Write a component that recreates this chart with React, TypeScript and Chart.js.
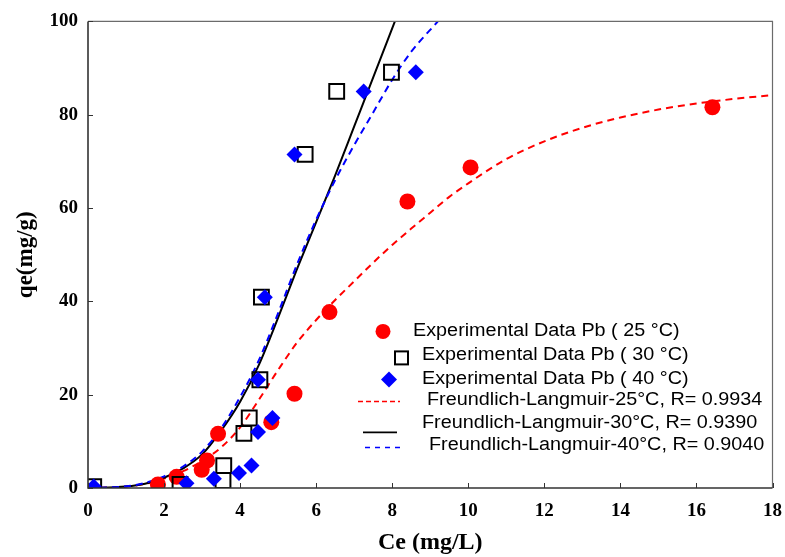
import React, { useEffect, useRef } from "react";
import { Chart, registerables } from "chart.js";

Chart.register(...registerables);

// ---------- data ----------
const ce25 = [1.84, 2.33, 2.99, 3.13, 3.42, 4.82, 5.43, 6.35, 8.4, 10.06, 16.42];
const qe25 = [0.75, 2.4, 3.9, 5.9, 11.6, 14.1, 20.2, 37.7, 61.4, 68.7, 81.6];

const ce30 = [0.15, 2.42, 3.55, 3.57, 4.1, 4.24, 4.52, 4.56, 5.71, 6.54, 7.98];
const qe30 = [0.3, 0.75, 1.6, 4.8, 11.7, 15.0, 23.2, 40.9, 71.5, 85.0, 89.1];

const ce40 = [0.15, 2.59, 3.31, 3.97, 4.3, 4.47, 4.85, 4.47, 4.65, 5.43, 7.25, 8.62];
const qe40 = [0.3, 1.0, 2.0, 3.2, 4.8, 12.0, 15.0, 23.2, 40.9, 71.5, 85.0, 89.1];

const fitX25 = [0, 1, 1.5, 2, 2.5, 3, 3.5, 4, 4.5, 5, 5.5, 6, 6.5, 7, 7.5, 8, 8.5, 9, 9.5, 10, 10.5, 11, 12, 13, 14, 15, 16, 17, 18];
const fitY25 = [0, 0.3, 0.9, 2.0, 3.6, 5.8, 8.7, 13.0, 19.0, 25.3, 31.2, 36.0, 40.3, 44.3, 48.3, 52.1, 55.6, 59.0, 62.4, 65.3, 68.0, 70.5, 74.3, 77.2, 79.4, 81.1, 82.4, 83.4, 84.2];

const fitX30 = [0, 1, 1.5, 2, 2.5, 3, 3.5, 4, 4.5, 5, 5.5, 6, 6.5, 7, 7.5, 8.07];
const fitY30 = [0, 0.3, 0.9, 2.2, 4.2, 7.2, 12.3, 18.5, 26.5, 36.5, 47.0, 57.0, 67.0, 77.5, 88.0, 100];

const fitX40 = [0, 1, 1.5, 2, 2.5, 3, 3.5, 4, 4.5, 5, 5.5, 6, 6.5, 7, 7.5, 8, 8.5, 9.2];
const fitY40 = [0, 0.35, 1.1, 2.5, 4.6, 7.8, 12.8, 19.5, 27.5, 37.5, 48.0, 57.5, 66.0, 73.5, 80.5, 87.5, 93.5, 100];

const seriesLabels = [
  "Experimental Data Pb ( 25 °C)",
  "Experimental Data Pb ( 30 °C)",
  "Experimental Data Pb ( 40 °C)",
  "Freundlich-Langmuir-25°C, R= 0.9934",
  "Freundlich-Langmuir-30°C, R= 0.9390",
  "Freundlich-Langmuir-40°C, R= 0.9040",
];

const xTickValues = [0, 2, 4, 6, 8, 10, 12, 14, 16, 18];
const yTickValues = [0, 20, 40, 60, 80, 100];

const xTitle = "Ce (mg/L)";
const yTitle = "qe(mg/g)";

const toPts = (xs: number[], ys: number[]) => xs.map((x, i) => ({ x, y: ys[i] }));

const SERIF = "'Liberation Serif', 'Times New Roman', serif";
const SANS = "'Liberation Sans', Arial, sans-serif";

const frameAndTicks = {
  id: "frameAndTicks",
  afterDraw(chart: any) {
    const { ctx, chartArea: a, scales } = chart;
    ctx.save();
    ctx.strokeStyle = "#6b6b6b";
    ctx.lineWidth = 1.2;
    ctx.beginPath();
    ctx.moveTo(a.left, a.top);
    ctx.lineTo(a.right, a.top);
    ctx.lineTo(a.right, a.bottom);
    ctx.stroke();
    ctx.strokeStyle = "#333";
    ctx.lineWidth = 1.6;
    ctx.beginPath();
    ctx.moveTo(a.left, a.top);
    ctx.lineTo(a.left, a.bottom);
    ctx.lineTo(a.right, a.bottom);
    ctx.stroke();
    ctx.lineWidth = 1;
    ctx.strokeStyle = "#333";
    ctx.beginPath();
    xTickValues.forEach((v) => {
      const px = Math.round(scales.x.getPixelForValue(v)) + 0.5;
      ctx.moveTo(px, a.bottom);
      ctx.lineTo(px, a.bottom - 5);
    });
    yTickValues.forEach((v) => {
      const py = Math.round(scales.y.getPixelForValue(v)) + 0.5;
      ctx.moveTo(a.left, py);
      ctx.lineTo(a.left + 5, py);
    });
    ctx.stroke();
    ctx.restore();
  },
};

const customLegend = {
  id: "customLegend",
  afterDraw(chart: any) {
    const { ctx, chartArea: a } = chart;
    const ox = a.left;
    const oy = a.top;
    ctx.save();

    ctx.fillStyle = "#ff0000";
    ctx.beginPath();
    ctx.arc(ox + 295, oy + 310, 7.5, 0, Math.PI * 2);
    ctx.fill();
    ctx.strokeStyle = "#000";
    ctx.lineWidth = 2;
    ctx.strokeRect(ox + 307, oy + 330, 13, 13);
    ctx.fillStyle = "#0000ff";
    ctx.beginPath();
    ctx.moveTo(ox + 301, oy + 350);
    ctx.lineTo(ox + 309, oy + 358);
    ctx.lineTo(ox + 301, oy + 366);
    ctx.lineTo(ox + 293, oy + 358);
    ctx.closePath();
    ctx.fill();
    ctx.lineWidth = 1.5;
    ctx.strokeStyle = "#ff0000";
    ctx.setLineDash([5, 3]);
    ctx.beginPath();
    ctx.moveTo(ox + 270, oy + 380);
    ctx.lineTo(ox + 312, oy + 380);
    ctx.stroke();
    ctx.setLineDash([]);
    ctx.strokeStyle = "#000";
    ctx.lineWidth = 1.8;
    ctx.beginPath();
    ctx.moveTo(ox + 275, oy + 411);
    ctx.lineTo(ox + 309, oy + 411);
    ctx.stroke();
    ctx.strokeStyle = "#0000ff";
    ctx.lineWidth = 1.5;
    ctx.setLineDash([5, 5]);
    ctx.beginPath();
    ctx.moveTo(ox + 277, oy + 426);
    ctx.lineTo(ox + 312, oy + 426);
    ctx.stroke();
    ctx.setLineDash([]);

    ctx.font = `18px ${SANS}`;
    ctx.fillStyle = "#000";
    ctx.textBaseline = "middle";
    ctx.textAlign = "left";
    const textPos = [
      [325, 310],
      [334, 334],
      [334, 358],
      [339, 379],
      [334, 402],
      [341, 424],
    ];
    const sx = 1.1;
    seriesLabels.forEach((t, i) => {
      ctx.save();
      ctx.translate(ox + textPos[i][0], oy + textPos[i][1]);
      ctx.scale(sx, 1);
      ctx.fillText(t, 0, 0);
      ctx.restore();
    });
    ctx.restore();
  },
};

export default function App() {
  const ref = useRef<HTMLCanvasElement | null>(null);

  useEffect(() => {
    document.body.style.margin = "0";
    const canvas = ref.current;
    if (!canvas) return;
    const chart = new Chart(canvas, {
      type: "scatter",
      data: {
        datasets: [
          {
            label: seriesLabels[0],
            data: toPts(ce25, qe25),
            pointStyle: "circle",
            pointRadius: 8,
            backgroundColor: "#ff0000",
            borderColor: "#ff0000",
            borderWidth: 0,
            order: 2,
          },
          {
            label: seriesLabels[1],
            data: toPts(ce30, qe30),
            pointStyle: "rect",
            pointRadius: 10.5,
            backgroundColor: "rgba(0,0,0,0)",
            borderColor: "#000",
            borderWidth: 2,
            order: 1,
          },
          {
            label: seriesLabels[2],
            data: toPts(ce40, qe40),
            pointStyle: "rectRot",
            pointRadius: 8,
            backgroundColor: "#0000ff",
            borderColor: "#0000ff",
            borderWidth: 0,
            order: 0,
          },
          {
            type: "line",
            label: seriesLabels[3],
            data: toPts(fitX25, fitY25),
            borderColor: "#ff0000",
            borderWidth: 2,
            borderDash: [7, 5],
            pointRadius: 0,
            showLine: true,
            cubicInterpolationMode: "monotone",
            fill: false,
            order: 5,
          },
          {
            type: "line",
            label: seriesLabels[4],
            data: toPts(fitX30, fitY30),
            borderColor: "#000",
            borderWidth: 2,
            pointRadius: 0,
            showLine: true,
            cubicInterpolationMode: "monotone",
            fill: false,
            order: 4,
          },
          {
            type: "line",
            label: seriesLabels[5],
            data: toPts(fitX40, fitY40),
            borderColor: "#0000ff",
            borderWidth: 2,
            borderDash: [7, 5],
            pointRadius: 0,
            showLine: true,
            cubicInterpolationMode: "monotone",
            fill: false,
            order: 3,
          },
        ] as any,
      },
      options: {
        responsive: false,
        animation: false,
        layout: { padding: { top: 21, right: 0, left: 0, bottom: 0 } },
        plugins: {
          legend: { display: false },
          tooltip: { enabled: false },
        },
        scales: {
          x: {
            type: "linear",
            min: 0,
            max: 18,
            afterBuildTicks: (s: any) => {
              s.ticks = xTickValues.map((v) => ({ value: v }));
            },
            afterFit: (s: any) => {
              s.height = 69;
              s.paddingRight = 11;
              s.paddingLeft = 0;
            },
            grid: { display: false, drawTicks: false },
            border: { display: false },
            ticks: {
              color: "#000",
              padding: 12,
              font: { family: SERIF, size: 19, weight: "bold" },
            },
            title: {
              display: true,
              text: xTitle,
              color: "#000",
              padding: { top: 0, bottom: 0 },
              font: { family: SERIF, size: 24, weight: "bold" },
            },
          },
          y: {
            type: "linear",
            min: 0,
            max: 100,
            afterBuildTicks: (s: any) => {
              s.ticks = yTickValues.map((v) => ({ value: v }));
            },
            afterFit: (s: any) => {
              s.width = 88;
            },
            grid: { display: false, drawTicks: false },
            border: { display: false },
            ticks: {
              color: "#000",
              padding: 10,
              font: { family: SERIF, size: 19, weight: "bold" },
            },
            title: {
              display: true,
              text: yTitle,
              color: "#000",
              padding: { top: 12, bottom: 0 },
              font: { family: SERIF, size: 23, weight: "bold" },
            },
          },
        },
      },
      plugins: [frameAndTicks, customLegend],
    } as any);
    return () => chart.destroy();
  }, []);

  return (
    <div style={{ width: 785, height: 557, background: "#fff" }}>
      <canvas ref={ref} width={785} height={557} style={{ display: "block" }} />
    </div>
  );
}
